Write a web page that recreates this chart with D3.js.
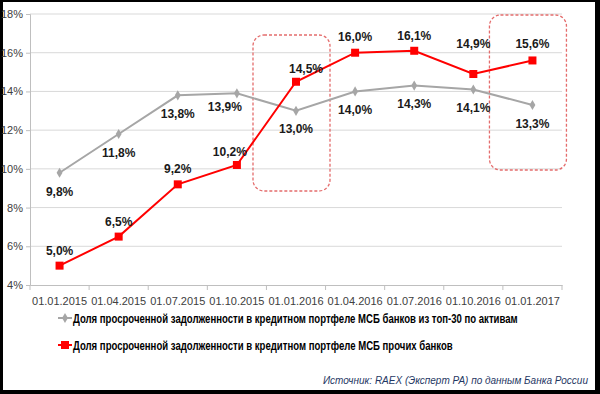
<!DOCTYPE html>
<html>
<head>
<meta charset="utf-8">
<script src="https://cdn.jsdelivr.net/npm/d3@7"></script>
<style>
body { margin:0; background:#fff; }
svg text { font-family: "Liberation Sans Narrow", "Arial Narrow", "Liberation Sans", sans-serif; }
</style>
</head>
<body>
<div id="chart"></div>
<script>
// data
var dates = ['01.01.2015','01.04.2015','01.07.2015','01.10.2015','01.01.2016','01.04.2016','01.07.2016','01.10.2016','01.01.2017'];
var top30 = [9.8, 11.8, 13.8, 13.9, 13.0, 14.0, 14.3, 14.1, 13.3];
var others = [5.0, 6.5, 9.2, 10.2, 14.5, 16.0, 16.1, 14.9, 15.6];
var yTicks = [4, 6, 8, 10, 12, 14, 16, 18];
var seriesNames = [
	'Доля просроченной задолженности в кредитном портфеле МСБ банков из топ-30 по активам',
	'Доля просроченной задолженности в кредитном портфеле МСБ прочих банков'
];
var sourceText = 'Источник: RAEX (Эксперт РА) по данным  Банка России';

// label nudges [dx, dy] per point
var grayNudge = [[0,23],[0,23],[0,23],[-12,18],[0,22],[0,23],[0,22],[0,23],[0,23]];
var redNudge = [[0,-11],[0,-11],[0,-11],[-7,-9],[10,-9],[0,-12],[0,-11],[0,-26],[0,-12]];

var chart_width = 600;
var chart_height = 394;

var svg = d3.select('#chart')
			.append('svg')
			.attr('width', chart_width)
			.attr('height', chart_height);

// frame
svg.append('rect').attr('x',0).attr('y',0).attr('width',600).attr('height',394).attr('fill','#000');
svg.append('rect').attr('x',3).attr('y',2).attr('width',592).attr('height',388).attr('fill','#fff');

var x = d3.scaleBand().domain(dates).range([30, 562]);
var y = d3.scaleLinear().domain([4, 18]).range([285, 14]);
var cx = function(d){ return x(d) + x.bandwidth()/2; };

// gridlines
svg.selectAll('.grid')
	.data(yTicks.slice(1))
	.enter()
	.append('line')
	.attr('x1', 30).attr('x2', 562)
	.attr('y1', function(d){ return y(d); })
	.attr('y2', function(d){ return y(d); })
	.attr('stroke', '#d9d9d9')
	.attr('stroke-width', 1);

// y axis
var yAxis = svg.append('g')
	.attr('transform', 'translate(30,0)')
	.call(d3.axisLeft(y).tickValues(yTicks).tickSize(4).tickFormat(function(d){ return d + '%'; }));
yAxis.select('.domain').attr('stroke', '#bfbfbf');
yAxis.selectAll('.tick line').attr('stroke', '#bfbfbf');
yAxis.selectAll('text').attr('font-size', 11).attr('fill', '#404040').attr('x', -7)
	.style('font-family', '"Liberation Sans Narrow", "Arial Narrow", sans-serif');

// x axis
var xAxis = svg.append('g')
	.attr('transform', 'translate(0,285)')
	.call(d3.axisBottom(x).tickSize(0).tickSizeOuter(0));
xAxis.select('.domain').attr('stroke', '#bfbfbf');
xAxis.selectAll('text').attr('font-size', 11).attr('fill', '#404040').attr('dy', '1.5em')
	.style('font-family', '"Liberation Sans Narrow", "Arial Narrow", sans-serif');
xAxis.selectAll('.bound')
	.data(dates.concat(['end']))
	.enter()
	.append('line')
	.attr('x1', function(d){ return d == 'end' ? 562 : x(d); })
	.attr('x2', function(d){ return d == 'end' ? 562 : x(d); })
	.attr('y1', 0).attr('y2', 5)
	.attr('stroke', '#bfbfbf');

// dashed highlight boxes
var boxes = [[dates[4], 35, 191], [dates[8], 15, 170]];
svg.selectAll('.box')
	.data(boxes)
	.enter()
	.append('rect')
	.attr('x', function(d){ return cx(d[0]) - 43; })
	.attr('y', function(d){ return d[1]; })
	.attr('width', 77)
	.attr('height', function(d){ return d[2] - d[1]; })
	.attr('rx', 11)
	.attr('fill', 'none')
	.attr('stroke', '#e46c6c')
	.attr('stroke-width', 1.3)
	.attr('stroke-dasharray', '3,2');

var line = d3.line()
	.x(function(d, i){ return cx(dates[i]); })
	.y(function(d){ return y(d); });

// gray series
svg.append('path')
	.datum(top30)
	.attr('d', line)
	.attr('fill', 'none')
	.attr('stroke', '#a6a6a6')
	.attr('stroke-width', 2);
svg.selectAll('.gmark')
	.data(top30)
	.enter()
	.append('path')
	.attr('d', d3.symbol(d3.symbolDiamond, 30))
	.attr('transform', function(d, i){ return 'translate(' + cx(dates[i]) + ',' + y(d) + ')'; })
	.attr('fill', '#a6a6a6');

// red series
svg.append('path')
	.datum(others)
	.attr('d', line)
	.attr('fill', 'none')
	.attr('stroke', '#ff0000')
	.attr('stroke-width', 2);
svg.selectAll('.rmark')
	.data(others)
	.enter()
	.append('rect')
	.attr('x', function(d, i){ return cx(dates[i]) - 4; })
	.attr('y', function(d){ return y(d) - 4; })
	.attr('width', 8).attr('height', 8)
	.attr('fill', '#ff0000');

// labels
var fmt = function(d){ return d.toFixed(1).replace('.', ',') + '%'; };
svg.selectAll('.glabel')
	.data(top30)
	.enter()
	.append('text')
	.text(fmt)
	.attr('x', function(d, i){ return cx(dates[i]) + grayNudge[i][0]; })
	.attr('y', function(d, i){ return y(d) + grayNudge[i][1]; })
	.attr('font-size', 12)
	.attr('font-weight', 'bold')
	.attr('fill', '#1a1a1a')
	.attr('text-anchor', 'middle');
svg.selectAll('.rlabel')
	.data(others)
	.enter()
	.append('text')
	.text(fmt)
	.attr('x', function(d, i){ return cx(dates[i]) + redNudge[i][0]; })
	.attr('y', function(d, i){ return y(d) + redNudge[i][1]; })
	.attr('font-size', 12)
	.attr('font-weight', 'bold')
	.attr('fill', '#1a1a1a')
	.attr('text-anchor', 'middle');

// squeeze a text horizontally so it spans the wanted width, keeping its height
function fitText(sel, w){
	var len = sel.node().getComputedTextLength();
	var k = w / len;
	sel.attr('transform', 'scale(' + k.toFixed(4) + ',1)')
		.attr('x', +sel.attr('x') / k);
}

// legend
var legend = svg.append('g');
var lg1 = legend.append('g').attr('transform', 'translate(58,318)');
lg1.append('line').attr('x1', 0).attr('x2', 14).attr('stroke', '#a6a6a6').attr('stroke-width', 2);
lg1.append('path').attr('d', d3.symbol(d3.symbolDiamond, 30)).attr('transform', 'translate(7,0)').attr('fill', '#a6a6a6');
var t1 = lg1.append('text').text(seriesNames[0]).attr('x', 15).attr('y', 5)
	.attr('font-size', 13).attr('font-weight', 'bold').attr('fill', '#000');
fitText(t1, 445);

var lg2 = legend.append('g').attr('transform', 'translate(58,345)');
lg2.append('line').attr('x1', 0).attr('x2', 14).attr('stroke', '#ff0000').attr('stroke-width', 2);
lg2.append('rect').attr('x', 3).attr('y', -4).attr('width', 8).attr('height', 8).attr('fill', '#ff0000');
var t2 = lg2.append('text').text(seriesNames[1]).attr('x', 15).attr('y', 5)
	.attr('font-size', 13).attr('font-weight', 'bold').attr('fill', '#000');
fitText(t2, 380);

// source
svg.append('text')
	.text(sourceText)
	.attr('x', 588).attr('y', 384)
	.attr('text-anchor', 'end')
	.attr('font-size', 10)
	.attr('font-style', 'italic')
	.attr('fill', '#1f3864');
</script>
</body>
</html>
